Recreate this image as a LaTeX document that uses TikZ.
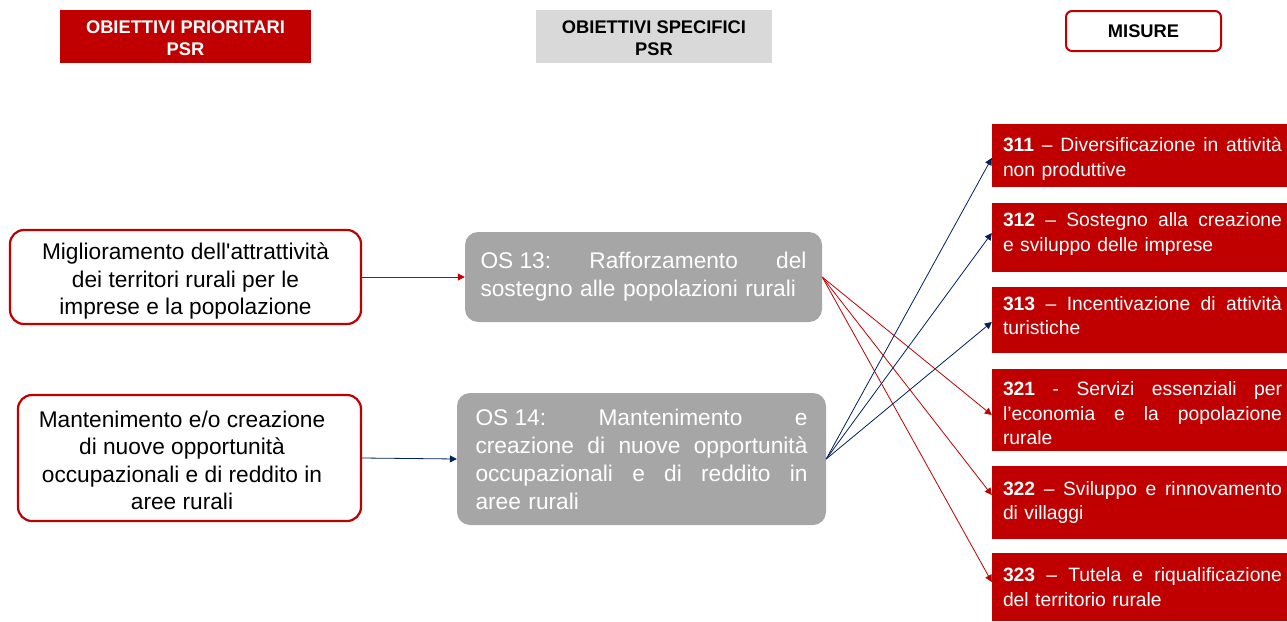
\documentclass[tikz,border=0pt]{standalone}
\usepackage{fontspec}
\setmainfont{Liberation Sans}
\usetikzlibrary{arrows.meta,calc}
\definecolor{psrred}{HTML}{C00000}
\definecolor{psrblue}{HTML}{002060}
\definecolor{psrgray}{HTML}{A6A6A6}
\definecolor{hdrgray}{HTML}{D9D9D9}
\newcommand{\jl}[2]{\leavevmode\hbox to #1{\spaceskip=0.278em plus 1fil\relax\xspaceskip=\spaceskip\relax #2}}
\tikzset{
  hdrfont/.style={font=\bfseries\fontsize{18.3}{22}\selectfont},
  redhdr/.style={hdrfont, fill=psrred, text=white, align=center, inner sep=0pt},
  grayhdr/.style={hdrfont, fill=hdrgray, text=black, align=center, inner sep=0pt},
  mishdr/.style={hdrfont, draw=psrred, line width=2pt, rounded corners=6pt, fill=white, text=black, inner sep=0pt},
  leftbox/.style={draw=psrred, line width=2.2pt, rounded corners=14pt, fill=white, inner sep=0pt},
  lefttext/.style={text=black, align=center, inner sep=0pt, font=\fontsize{22.7}{27.5}\selectfont},
  midbox/.style={fill=psrgray, rounded corners=13pt, text=white, align=left, inner sep=0pt, font=\fontsize{22.7}{28}\selectfont},
  misbox/.style={fill=psrred, text=white, align=left, text width=279pt, minimum width=301pt, inner sep=0pt, font=\fontsize{19.3}{24.5}\selectfont},
  redarr/.style={draw=psrred, line width=0.8pt, -{Triangle[length=7pt,width=7pt]}},
  bluearr/.style={draw=psrblue, line width=0.8pt, -{Triangle[length=7pt,width=7pt]}}
}
\begin{document}
\begin{tikzpicture}[x=1pt,y=-1pt]
\useasboundingbox (0,0) rectangle (1287,621);
% headers
\node[redhdr, minimum width=251pt, minimum height=53pt] (h1) at (185.5,36.5) {\rule{0pt}{17pt}OBIETTIVI PRIORITARI\\PSR};
\node[grayhdr, minimum width=236pt, minimum height=53pt] (h2) at (654,36.5) {\rule{0pt}{17pt}OBIETTIVI SPECIFICI\\PSR};
\node[mishdr, minimum width=155pt, minimum height=40pt] (h3) at (1143.5,31) {MISURE};
% left boxes
\node[leftbox, minimum width=351pt, minimum height=94pt] (l1) at (185.5,277) {};
\node[lefttext] (l1t) at (185.5,281)
  {Miglioramento dell\textquotesingle attrattività\\dei territori rurali per le\\imprese e la popolazione};
\node[leftbox, minimum width=343pt, minimum height=126pt] (l2) at (189.5,458) {};
\node[lefttext] (l2t) at (182,460.5)
  {Mantenimento e/o creazione\\di nuove opportunità\\occupazionali e di reddito in\\aree rurali};
% middle boxes
\node[midbox, text width=326pt, minimum width=357pt, minimum height=90pt] (m1) at (643.5,277)
  {\jl{326pt}{OS\kern.278em13: Rafforzamento del}\\sostegno alle popolazioni rurali};
\node[midbox, text width=332pt, minimum width=369pt, minimum height=132pt] (m2) at (641.5,459)
  {\jl{332pt}{OS\kern.278em14: Mantenimento e}\\\jl{332pt}{creazione di nuove opportunità}\\\jl{332pt}{occupazionali e di reddito in}\\aree rurali};
% measures
\node[misbox, minimum height=63pt] (b311) at (1142.5,155.5)
  {\rule{0pt}{21pt}\jl{279pt}{\textbf{311} – Diversificazione in attività}\\non produttive};
\node[misbox, minimum height=69pt] (b312) at (1142.5,237.5)
  {\jl{279pt}{\textbf{312} – Sostegno alla creazione}\\e sviluppo delle imprese\rule[-11pt]{0pt}{11pt}};
\node[misbox, minimum height=66pt] (b313) at (1142.5,320)
  {\jl{279pt}{\textbf{313} – Incentivazione di attività}\\turistiche\rule[-9pt]{0pt}{9pt}};
\node[misbox, minimum height=82pt] (b321) at (1142.5,410)
  {\rule{0pt}{21pt}\jl{279pt}{\textbf{321} - Servizi essenziali per}\\\jl{279pt}{l’economia e la popolazione}\\rurale};
\node[misbox, minimum height=73pt] (b322) at (1142.5,502.5)
  {\jl{279pt}{\textbf{322} – Sviluppo e rinnovamento}\\di villaggi};
\node[misbox, minimum height=68pt] (b323) at (1142.5,587)
  {\jl{279pt}{\textbf{323} – Tutela e riqualificazione}\\del territorio rurale};
% connectors
\draw[redarr] (l1.east) -- (m1.west);
\draw[bluearr] (l2.east) -- (m2.west);
\draw[redarr] (m1.east) -- ($(b321.west)+(0,5)$);
\draw[redarr] (m1.east) -- ($(b322.west)+(0,-7.5)$);
\draw[redarr] (m1.east) -- ($(b323.west)+(0,-5)$);
\draw[bluearr] (m2.east) -- ($(b311.west)+(0,2.5)$);
\draw[bluearr] (m2.east) -- ($(b312.west)+(0,-4.5)$);
\draw[bluearr] (m2.east) -- ($(b313.west)+(0,2)$);
\end{tikzpicture}
\end{document}
